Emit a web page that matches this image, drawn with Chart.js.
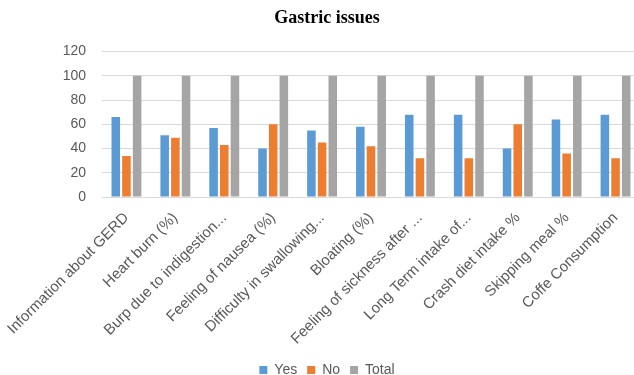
<!DOCTYPE html>
<html>
<head>
<meta charset="utf-8">
<script src="https://cdn.jsdelivr.net/npm/chart.js@4/dist/chart.umd.min.js"></script>
<style>
  html, body { margin: 0; padding: 0; background: #ffffff; overflow: hidden; }
  #wrap { width: 634px; height: 375px; overflow: hidden; }
  canvas { display: block; }
</style>
</head>
<body>
<div id="wrap"><canvas id="chart" width="654" height="387"></canvas></div>
<script>
// Survey answers per question (percent of respondents)
const categories = [
  "Information about GERD",
  "Heart burn (%)",
  "Burp due to indigestion...",
  "Feeling of nausea (%)",
  "Difficulty in swallowing...",
  "Bloating (%)",
  "Feeling of sickness after ...",
  "Long Term intake of...",
  "Crash diet intake %",
  "Skipping meal %",
  "Coffe Consumption"
];
const yesValues   = [66, 51, 57, 40, 55, 58, 68, 68, 40, 64, 68];
const noValues    = [34, 49, 43, 60, 45, 42, 32, 32, 60, 36, 32];
const totalValues = [100, 100, 100, 100, 100, 100, 100, 100, 100, 100, 100];
const yTicks = [0, 20, 40, 60, 80, 100, 120];

const textGray = "#595959";
const gridGray = "#D9D9D9";
const sans = "'Liberation Sans', Arial, sans-serif";

const barStyle = { categoryPercentage: 0.655, barPercentage: 0.8, borderWidth: 0 };

new Chart(document.getElementById("chart"), {
  type: "bar",
  data: {
    labels: categories,
    datasets: [
      Object.assign({ label: "Yes",   data: yesValues,   backgroundColor: "#5B9BD5" }, barStyle),
      Object.assign({ label: "No",    data: noValues,    backgroundColor: "#ED7D31" }, barStyle),
      Object.assign({ label: "Total", data: totalValues, backgroundColor: "#A5A5A5" }, barStyle)
    ]
  },
  options: {
    responsive: false,
    animation: false,
    layout: { padding: { left: 14, right: 14, top: 0, bottom: 0 } },
    plugins: {
      title: {
        display: true,
        text: "Gastric issues",
        color: "#000000",
        font: { family: "'Liberation Serif', 'Times New Roman', serif", size: 18, weight: "bold" },
        padding: { top: 8, bottom: 22 }
      },
      legend: {
        position: "bottom",
        labels: {
          boxWidth: 8,
          boxHeight: 8,
          padding: 10,
          color: textGray,
          font: { family: sans, size: 14 }
        }
      },
      tooltip: { enabled: false }
    },
    scales: {
      x: {
        grid: { display: false, drawTicks: false },
        border: { display: false },
        ticks: {
          color: textGray,
          font: { family: sans, size: 15 },
          minRotation: 45,
          maxRotation: 45,
          autoSkip: false,
          padding: 12
        },
        // rotated labels may run into the left margin; trim the reserved label band
        afterFit: (scale) => { scale.paddingLeft = 0; scale.height -= 7; }
      },
      y: {
        min: 0,
        max: 120,
        afterBuildTicks: (scale) => { scale.ticks = yTicks.map(v => ({ value: v })); },
        afterFit: (scale) => { scale.width = 88; },
        grid: { color: gridGray, lineWidth: 1, drawTicks: false },
        border: { display: false },
        ticks: {
          color: textGray,
          font: { family: sans, size: 14 },
          padding: 16
        }
      }
    }
  }
});
</script>
</body>
</html>
